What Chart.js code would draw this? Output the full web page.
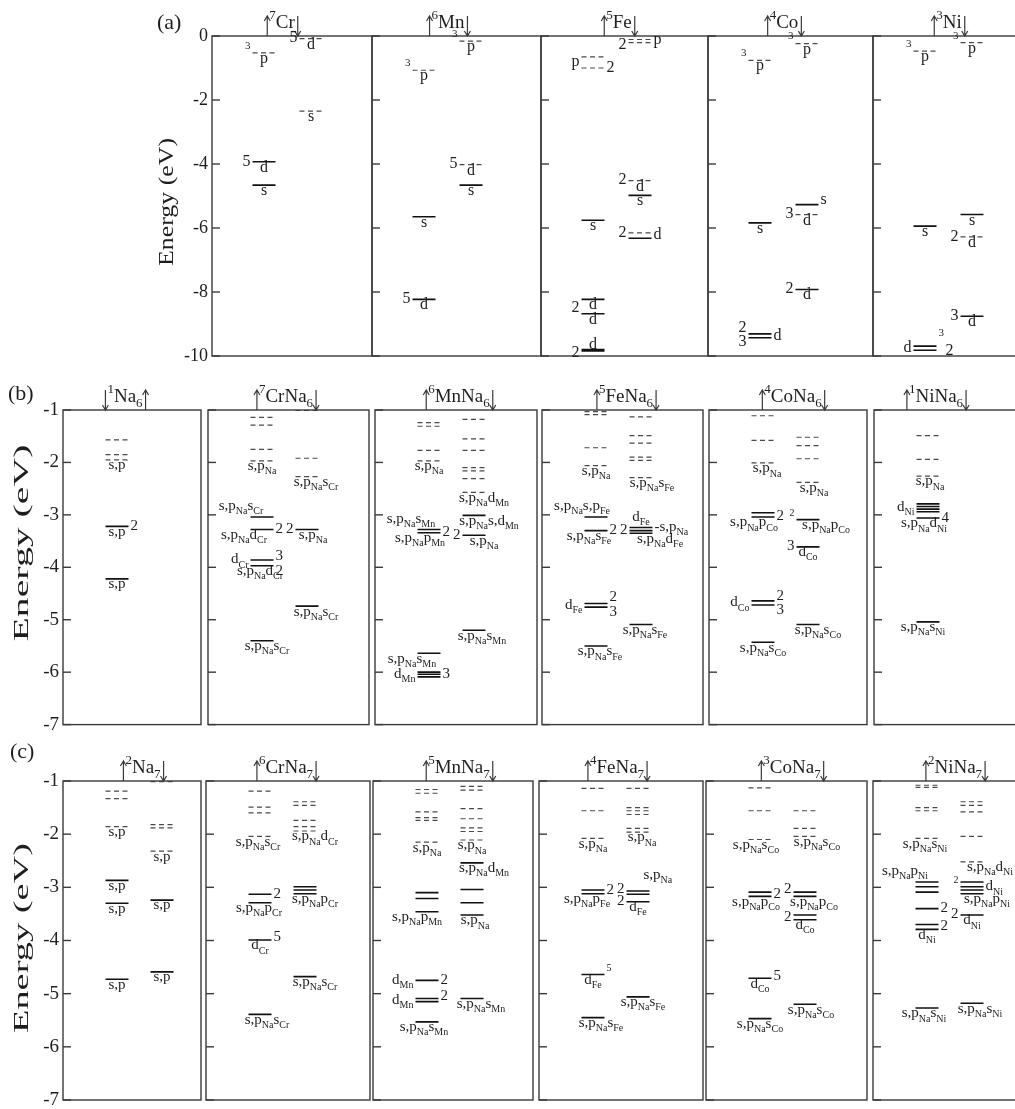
<!DOCTYPE html>
<html>
<head>
<meta charset="utf-8">
<script src="https://cdn.jsdelivr.net/npm/chart.js@4.4.1/dist/chart.umd.min.js"></script>
<style>
html, body { margin: 0; padding: 0; background: #fff; overflow: hidden; }
#fig { position: relative; width: 1015px; height: 1109px; overflow: hidden; background: #fff; }
#fig canvas { position: absolute; left: 0; }
</style>
</head>
<body>
<div id="fig">
  <canvas id="rowA" width="1050" height="372" style="top:0px"></canvas>
  <canvas id="rowB" width="1050" height="378" style="top:362px"></canvas>
  <canvas id="rowC" width="1050" height="380" style="top:738px"></canvas>
</div>
<script>
// panel titles (arrow, superscript = spin multiplicity, subscript = cluster size)
const titlesA = ['↑^{7}Cr↓', '↑^{6}Mn↓', '↑^{5}Fe↓', '↑^{4}Co↓', '↑^{3}Ni↓'];
const titlesB = ['↓^{1}Na_{6}↑', '↑^{7}CrNa_{6}↓', '↑^{6}MnNa_{6}↓', '↑^{5}FeNa_{6}↓', '↑^{4}CoNa_{6}↓', '↑^{1}NiNa_{6}↓'];
const titlesC = ['↑^{2}Na_{7}↓', '↑^{6}CrNa_{7}↓', '↑^{5}MnNa_{7}↓', '↑^{4}FeNa_{7}↓', '↑^{3}CoNa_{7}↓', '↑^{2}NiNa_{7}↓'];
const ticksA = [0, -2, -4, -6, -8, -10];
const ticksBC = [-1, -2, -3, -4, -5, -6, -7];

// levels: [spin column, energy eV, occupied 1 / empty 0]
// labels: [spin column, energy eV, side, text, nudge]
const aCr = [['u',-0.53,0],['d',-0.08,0],['d',-2.35,0],['u',-3.93,1],['u',-4.66,1]];
const aCrTx = [['u',-0.53,'b','p'],['u',-0.53,'l','^{3}'],['d',-0.08,'b','d'],['d',-0.08,'l','5'],['d',-2.35,'b','s'],
  ['u',-3.93,'b','d'],['u',-3.93,'l','5'],['u',-4.66,'b','s']];
const aMn = [['d',-0.16,0],['u',-1.07,0],['d',-4.02,0],['d',-4.66,1],['u',-5.65,1],['u',-8.23,1]];
const aMnTx = [['d',-0.16,'b','p'],['d',-0.16,'l','^{3}'],['u',-1.07,'b','p'],['u',-1.07,'l','^{3}'],['d',-4.02,'b','d'],
  ['d',-4.02,'l','5'],['d',-4.66,'b','s'],['u',-5.65,'b','s'],['u',-8.23,'b','d'],['u',-8.23,'l','5']];
const aFe = [['d',-0.11,0],['d',-0.21,0],['u',-0.65,0],['u',-1.0,0],['d',-4.52,0],['d',-4.98,1],['u',-5.76,1],
  ['d',-6.15,0],['d',-6.32,1],['u',-8.23,1],['u',-8.68,1],['u',-9.8,1],['u',-9.84,1]];
const aFeTx = [['d',-0.28,'l','2'],['d',-0.14,'r','p'],['u',-0.82,'l','p'],['u',-1.0,'r','2'],['d',-4.52,'l','2'],
  ['d',-4.52,'b','d'],['d',-4.98,'b','s'],['u',-5.76,'b','s'],['d',-6.15,'l','2'],['d',-6.22,'r','d'],
  ['u',-8.5,'l','2'],['u',-8.23,'b','d'],['u',-8.68,'b','d'],['u',-9.84,'a','d'],['u',-9.9,'l','2']];
const aCo = [['d',-0.24,0],['u',-0.76,0],['d',-5.27,1],['d',-5.58,0],['u',-5.84,1],['d',-7.92,1],['u',-9.31,1],['u',-9.43,1]];
const aCoTx = [['d',-0.24,'b','p'],['d',-0.24,'l','^{3}'],['u',-0.76,'b','p'],['u',-0.76,'l','^{3}'],['d',-5.12,'r','s'],
  ['d',-5.58,'l','3'],['d',-5.58,'b','d'],['u',-5.84,'b','s'],['d',-7.92,'b','d'],['d',-7.92,'l','2'],
  ['u',-9.12,'l','2'],['u',-9.58,'l','3'],['u',-9.37,'r','d']];
const aNi = [['d',-0.21,0],['u',-0.47,0],['d',-5.58,1],['u',-5.94,1],['d',-6.28,0],['d',-8.76,1],['u',-9.69,1],['u',-9.82,1]];
const aNiTx = [['d',-0.21,'b','p'],['d',-0.21,'l','^{3}'],['u',-0.47,'b','p'],['u',-0.47,'l','^{3}'],['d',-5.58,'b','s'],
  ['u',-5.94,'b','s'],['d',-6.28,'b','d'],['d',-6.28,'l','2'],['d',-8.76,'b','d'],['d',-8.76,'l','3'],
  ['u',-9.76,'l','d'],['u',-9.5,'r','^{3}'],['u',-9.86,'r','2',7]];

const bNa = [['u',-1.57,0],['u',-1.85,0],['u',-1.95,0],['u',-3.22,1],['u',-4.22,1]];
const bNaTx = [['u',-1.95,'b','s,p'],['u',-3.22,'b','s,p'],['u',-3.22,'r','2'],['u',-4.22,'b','s,p']];
const bCr = [['u',-1.14,0],['u',-1.29,0],['u',-1.75,0],['u',-1.97,0],['d',-1.01,0],['d',-1.92,0],['d',-2.27,0],
  ['u',-3.04,1],['u',-3.28,1],['d',-3.28,1],['u',-3.86,1],['u',-3.97,1],['d',-4.74,1],['u',-5.40,1]];
const bCrTx = [['u',-1.97,'b','s,p_{Na}'],['d',-2.27,'b','s,p_{Na}s_{Cr}',9],['u',-3.04,'a','s,p_{Na}s_{Cr}',-21],
  ['u',-3.28,'b','s,p_{Na}d_{Cr}',-18],['u',-3.28,'r','2'],['d',-3.28,'l','2'],['d',-3.28,'b','s,p_{Na}',6],
  ['u',-3.86,'l','d_{Cr}'],['u',-3.80,'r','3'],['u',-4.08,'r','2'],['u',-3.97,'b','s,p_{Na}d_{Cr}',-2],
  ['d',-4.74,'b','s,p_{Na}s_{Cr}',9],['u',-5.40,'b','s,p_{Na}s_{Cr}',5]];
const bMn = [['u',-1.24,0],['u',-1.31,0],['u',-1.77,0],['u',-1.97,0],['d',-1.18,0],['d',-1.55,0],['d',-1.77,0],
  ['d',-2.10,0],['d',-2.16,0],['d',-2.31,0],['d',-2.57,0],['d',-3.01,1],['d',-3.39,1],['u',-3.28,1],['u',-3.34,1],
  ['d',-5.20,1],['u',-5.64,1],['u',-6.0,1],['u',-6.04,1],['u',-6.09,1]];
const bMnTx = [['u',-1.97,'b','s,p_{Na}'],['d',-2.57,'b','s,p_{Na}d_{Mn}',10],['d',-3.01,'b','s,p_{Na}s,d_{Mn}',15],
  ['d',-3.39,'l','2'],['d',-3.39,'b','s,p_{Na}',10],['u',-3.28,'a','s,p_{Na}s_{Mn}',-18],['u',-3.34,'r','2'],
  ['u',-3.34,'b','s,p_{Na}p_{Mn}',-9],['d',-5.20,'b','s,p_{Na}s_{Mn}',8],['u',-5.64,'b','s,p_{Na}s_{Mn}',-17],
  ['u',-6.04,'l','d_{Mn}'],['u',-6.04,'r','3']];
const bFe = [['u',-1.03,0],['u',-1.09,0],['u',-1.72,0],['u',-2.06,0],['d',-1.13,0],['d',-1.49,0],['d',-1.63,0],
  ['d',-1.90,0],['d',-1.96,0],['d',-2.29,0],['u',-3.04,1],['u',-3.30,1],['d',-3.24,1],['d',-3.30,1],['d',-3.35,1],
  ['u',-4.69,1],['u',-4.76,1],['d',-5.09,1],['u',-5.50,1]];
const bFeTx = [['u',-2.06,'b','s,p_{Na}'],['d',-2.29,'b','s,p_{Na}s_{Fe}',11],['u',-3.04,'a','s,p_{Na}s,p_{Fe}',-14],
  ['u',-3.30,'r','2'],['u',-3.30,'b','s,p_{Na}s_{Fe}',-7],['d',-3.24,'a','d_{Fe}'],['d',-3.30,'l','2'],
  ['d',-3.24,'r','-s,p_{Na}'],['d',-3.35,'b','s,p_{Na}d_{Fe}',19],['u',-4.72,'l','d_{Fe}'],['u',-4.58,'r','2'],
  ['u',-4.86,'r','3'],['d',-5.09,'b','s,p_{Na}s_{Fe}',4],['u',-5.50,'b','s,p_{Na}s_{Fe}',4]];
const bCo = [['u',-1.11,0],['u',-1.58,0],['u',-2.01,0],['d',-1.52,0],['d',-1.68,0],['d',-1.93,0],['d',-2.38,0],
  ['u',-2.96,1],['u',-3.04,1],['d',-3.09,1],['d',-3.61,1],['u',-4.64,1],['u',-4.72,1],['d',-5.09,1],['u',-5.43,1]];
const bCoTx = [['u',-2.01,'b','s,p_{Na}',4],['d',-2.38,'b','s,p_{Na}',6],['u',-3.04,'r','2'],
  ['u',-3.04,'b','s,p_{Na}p_{Co}',-9],['d',-3.09,'l','^{2}'],['d',-3.09,'b','s,p_{Na}p_{Co}',18],['d',-3.61,'l','3'],
  ['d',-3.61,'b','d_{Co}'],['u',-4.68,'l','d_{Co}'],['u',-4.55,'r','2'],['u',-4.83,'r','3'],
  ['d',-5.09,'b','s,p_{Na}s_{Co}',10],['u',-5.43,'b','s,p_{Na}s_{Co}']];
const bNi = [['u',-1.49,0],['u',-1.94,0],['u',-2.26,0],['u',-2.79,1],['u',-2.84,1],['u',-2.89,1],['u',-2.94,1],
  ['u',-3.06,1],['u',-5.04,1]];
const bNiTx = [['u',-2.26,'b','s,p_{Na}',2],['u',-2.86,'l','d_{Ni}'],['u',-3.06,'r','4'],
  ['u',-3.06,'b','s,p_{Na}d_{Ni}',-4],['u',-5.04,'b','s,p_{Na}s_{Ni}',-5]];

const cNa = [['u',-1.19,0],['u',-1.33,0],['u',-1.86,0],['u',-2.87,1],['u',-3.30,1],['u',-4.73,1],['d',-1.01,0],
  ['d',-1.82,0],['d',-1.88,0],['d',-2.32,0],['d',-3.24,1],['d',-4.59,1]];
const cNaTx = [['u',-1.86,'b','s,p'],['u',-2.87,'b','s,p'],['u',-3.30,'b','s,p'],['u',-4.73,'b','s,p'],
  ['d',-2.32,'b','s,p'],['d',-3.24,'b','s,p'],['d',-4.59,'b','s,p']];
const cCr = [['u',-1.19,0],['u',-1.49,0],['u',-1.60,0],['u',-2.04,0],['d',-1.39,0],['d',-1.46,0],['d',-1.74,0],
  ['d',-1.86,0],['d',-1.94,0],['u',-3.13,1],['u',-3.29,1],['d',-2.99,1],['d',-3.05,1],['d',-3.12,1],['u',-3.99,1],
  ['d',-4.68,1],['u',-5.39,1]];
const cCrTx = [['u',-2.04,'b','s,p_{Na}s_{Cr}',-2],['d',-1.94,'b','s,p_{Na}d_{Cr}',10],['u',-3.13,'r','2'],
  ['u',-3.29,'b','s,p_{Na}p_{Cr}',-1],['d',-3.12,'b','s,p_{Na}p_{Cr}',10],['u',-3.95,'r','5'],['u',-3.99,'b','d_{Cr}'],
  ['d',-4.68,'b','s,p_{Na}s_{Cr}',10],['u',-5.39,'b','s,p_{Na}s_{Cr}',7]];
const cMn = [['u',-1.16,0],['u',-1.23,0],['u',-1.58,0],['u',-1.69,0],['u',-1.74,0],['u',-2.15,0],['d',-1.10,0],
  ['d',-1.17,0],['d',-1.52,0],['d',-1.71,0],['d',-1.88,0],['d',-1.95,0],['d',-2.11,0],['d',-2.54,1],['u',-3.10,1],
  ['u',-3.21,1],['u',-3.46,1],['d',-3.04,1],['d',-3.29,1],['d',-3.52,1],['u',-4.75,1],['u',-5.09,1],['u',-5.15,1],
  ['u',-5.53,1],['d',-5.09,1]];
const cMnTx = [['u',-2.15,'b','s,p_{Na}'],['d',-2.11,'b','s,p_{Na}'],['d',-2.54,'b','s,p_{Na}d_{Mn}',12],
  ['u',-3.46,'b','s,p_{Na}p_{Mn}',-10],['d',-3.52,'b','s,p_{Na}',3],['u',-4.75,'l','d_{Mn}'],['u',-4.75,'r','2'],
  ['u',-5.12,'l','d_{Mn}'],['u',-5.06,'r','2'],['u',-5.53,'b','s,p_{Na}s_{Mn}',-3],['d',-5.09,'b','s,p_{Na}s_{Mn}',9]];
const cFe = [['u',-1.14,0],['u',-1.56,0],['u',-2.08,0],['d',-1.14,0],['d',-1.50,0],['d',-1.56,0],['d',-1.63,0],
  ['d',-1.89,0],['d',-1.96,0],['u',-3.05,1],['u',-3.12,1],['d',-3.07,1],['d',-3.13,1],['d',-3.27,1],['u',-4.64,1],
  ['d',-5.06,1],['u',-5.45,1]];
const cFeTx = [['u',-2.08,'b','s,p_{Na}'],['d',-1.96,'b','s,p_{Na}',4],['u',-3.06,'r','2'],
  ['u',-3.12,'b','s,p_{Na}p_{Fe}',-6],['d',-3.05,'l','2'],['d',-3.27,'l','2'],['d',-3.27,'b','d_{Fe}'],
  ['d',-2.78,'r','s,p_{Na}',-8],['u',-4.64,'r','^{5}'],['u',-4.64,'b','d_{Fe}'],['d',-5.06,'b','s,p_{Na}s_{Fe}',5],
  ['u',-5.45,'b','s,p_{Na}s_{Fe}',8]];
const cCo = [['u',-1.13,0],['u',-1.56,0],['u',-2.10,0],['d',-1.56,0],['d',-1.89,0],['d',-2.04,0],['u',-3.09,1],
  ['u',-3.17,1],['d',-3.09,1],['d',-3.17,1],['d',-3.52,1],['d',-3.61,1],['u',-4.71,1],['d',-5.20,1],['u',-5.47,1]];
const cCoTx = [['u',-2.10,'b','s,p_{Na}s_{Co}',-4],['d',-2.04,'b','s,p_{Na}s_{Co}',12],['u',-3.13,'r','2'],
  ['u',-3.17,'b','s,p_{Na}p_{Co}',-4],['d',-3.05,'l','2'],['d',-3.17,'b','s,p_{Na}p_{Co}',9],['d',-3.56,'l','2'],
  ['d',-3.61,'b','d_{Co}'],['u',-4.68,'r','5'],['u',-4.71,'b','d_{Co}'],['d',-5.20,'b','s,p_{Na}s_{Co}',6],
  ['u',-5.47,'b','s,p_{Na}s_{Co}']];
const cNi = [['u',-1.08,0],['u',-1.12,0],['u',-1.50,0],['u',-1.56,0],['u',-2.08,0],['d',-1.39,0],['d',-1.46,0],
  ['d',-1.58,0],['d',-2.04,0],['d',-2.52,0],['u',-2.90,1],['u',-2.99,1],['u',-3.09,1],['u',-3.40,1],['u',-3.70,1],
  ['u',-3.79,1],['d',-2.90,1],['d',-2.99,1],['d',-3.05,1],['d',-3.12,1],['d',-3.52,1],['u',-5.27,1],['d',-5.18,1]];
const cNiTx = [['u',-2.08,'b','s,p_{Na}s_{Ni}',-2],['u',-2.90,'a','s,p_{Na}p_{Ni}',-22],['u',-3.40,'r','2'],
  ['u',-3.74,'r','2'],['u',-3.79,'b','d_{Ni}'],['d',-2.52,'b','s,p_{Na}d_{Ni}',18],['d',-2.99,'l','^{2}'],
  ['d',-2.99,'r','d_{Ni}'],['d',-3.12,'b','s,p_{Na}p_{Ni}',15],['d',-3.52,'l','2'],['d',-3.52,'b','d_{Ni}'],
  ['u',-5.27,'b','s,p_{Na}s_{Ni}',-3],['d',-5.18,'b','s,p_{Na}s_{Ni}',8]];

// page layout of the three rows (pixels)
const layA = { id: 'rowA', padL: 140, padT: 36, padB: 16, lefts: [212, 372, 541, 708, 873],
  rights: [372, 541, 708, 873, 1043], up: 52, dn: 99, hw: 11.5, tOff: [70, 76, 78, 76, 76],
  size: 16, tickSize: 18, letter: ['(a)', 157, 29], yTitle: [167, 202, 128] };
const layB = { id: 'rowB', padL: 4, padT: 48, padB: 12, lefts: [63, 208, 375, 542, 709, 874],
  rights: [201, 369, 537, 703, 867, 1040], up: 54, dn: 99, hw: 11.5, tOff: [62, 78, 84, 84, 84, 62],
  size: 15, tickSize: 19, letter: ['(b)', 8, 38], yTitle: [22, 181, 197] };
const layC = { id: 'rowC', padL: 4, padT: 43, padB: 18, lefts: [63, 206, 373, 539, 706, 873],
  rights: [201, 370, 533, 703, 867, 1040], up: 54, dn: 99, hw: 11.5, tOff: [80, 80, 86, 78, 86, 82],
  size: 15, tickSize: 19, letter: ['(c)', 10, 20], yTitle: [22, 200, 190] };

const FONT = '"Liberation Serif", "Times New Roman", serif';
const INK = '#1e1e1e';

// split "s,p_{Na}^{2}" into runs: 0 normal, 1 subscript, -1 superscript
function runs(str) {
    let out = [], buf = '', i = 0;
    while (i < str.length) {
        let c = str[i];
        if ((c === '_' || c === '^') && str[i + 1] === '{') {
            if (buf) { out.push({t: buf, m: 0}); buf = ''; }
            let j = str.indexOf('}', i);
            out.push({t: str.slice(i + 2, j), m: c === '_' ? 1 : -1});
            i = j + 1;
        } else { buf += c; i++; }
    }
    if (buf) out.push({t: buf, m: 0});
    return out;
}

function richWidth(ctx, str, size) {
    let w = 0;
    runs(str).forEach(r => {
        ctx.font = (r.m ? Math.round(size * 0.68) : size) + 'px ' + FONT;
        w += ctx.measureText(r.t).width;
    });
    return w;
}

function rich(ctx, str, x, y, size, align) {
    let w = richWidth(ctx, str, size);
    let cx = align === 'center' ? x - w / 2 : align === 'right' ? x - w : x;
    ctx.textAlign = 'left';
    ctx.textBaseline = 'alphabetic';
    runs(str).forEach(r => {
        let s = r.m ? Math.round(size * 0.68) : size;
        ctx.font = s + 'px ' + FONT;
        let dy = r.m === 1 ? size * 0.28 : r.m === -1 ? -size * 0.5 : 0;
        ctx.fillText(r.t, cx, y + dy);
        cx += ctx.measureText(r.t).width;
    });
    return w;
}

function arrow(ctx, ax, yb, up) {
    let yt = yb - 20;
    ctx.beginPath();
    ctx.moveTo(ax, yb);
    ctx.lineTo(ax, yt);
    let hy = up ? yt : yb, d = up ? 1 : -1;
    ctx.moveTo(ax - 3, hy + 5 * d);
    ctx.lineTo(ax, hy);
    ctx.lineTo(ax + 3, hy + 5 * d);
    ctx.stroke();
}

const figPlugin = {
    id: 'fig',
    afterDraw(chart, args, o) {
        const {ctx} = chart;
        const sx = chart.scales.x, sy = chart.scales.y, lay = o.lay;
        const yt = sy.getPixelForValue(sy.max), yb = sy.getPixelForValue(sy.min);
        ctx.save();
        ctx.strokeStyle = '#3a3a3a';
        ctx.fillStyle = INK;
        ctx.lineWidth = 1.4;
        lay.lefts.forEach((l, i) => {
            let xl = sx.getPixelForValue(l), xr = sx.getPixelForValue(lay.rights[i]);
            ctx.strokeRect(xl, yt, xr - xl, yb - yt);
            o.ticks.forEach(v => {
                let py = sy.getPixelForValue(v);
                ctx.beginPath(); ctx.moveTo(xl, py); ctx.lineTo(xl + 8, py); ctx.stroke();
            });
        });

        // panel titles with spin arrows
        ctx.lineWidth = 1.2;
        o.titles.forEach((t, i) => {
            let a0 = t[0], a1 = t[t.length - 1], body = t.slice(1, -1);
            let cx = sx.getPixelForValue(lay.lefts[i] + lay.tOff[i]);
            let w = richWidth(ctx, body, 19);
            rich(ctx, body, cx, yt - 8, 19, 'center');
            arrow(ctx, cx - w / 2 - 2, yt, a0 === '↑');
            arrow(ctx, cx + w / 2 + 3, yt, a1 === '↑');
        });

        // level labels
        o.texts.forEach((tx, i) => {
            tx.forEach(([sp, e, an, t, dx = 0]) => {
                let c = sx.getPixelForValue(lay.lefts[i] + (sp === 'u' ? lay.up : lay.dn));
                let py = sy.getPixelForValue(e), s = lay.size, h = lay.hw;
                if (an === 'b') rich(ctx, t, c + dx, py + s * 0.56 + 1, s, 'center');
                else if (an === 'a') rich(ctx, t, c + dx, py - (t.includes('_') ? s * 0.45 : 2), s, 'center');
                else if (an === 'l') rich(ctx, t, c - h - 2 + dx, py + s * 0.3 - 1, s, 'right');
                else rich(ctx, t, c + h + 2 + dx, py + s * 0.3 - 1, s, 'left');
            });
        });

        // row letter and stretched axis title
        ctx.font = '22px ' + FONT;
        ctx.textAlign = 'left';
        ctx.fillText(lay.letter[0], lay.letter[1], lay.letter[2]);
        let [tx, ty, len] = lay.yTitle;
        ctx.translate(tx, ty);
        ctx.rotate(-Math.PI / 2);
        let w = ctx.measureText('Energy (eV)').width;
        ctx.scale(len / w, 1);
        ctx.textAlign = 'center';
        ctx.textBaseline = 'middle';
        ctx.fillText('Energy (eV)', 0, 0);
        ctx.restore();
    }
};

function makeRow(lay, titles, ticks, levels, texts, yMin, yMax) {
    let solid = [], dashed = [];
    levels.forEach((lv, i) => {
        lv.forEach(([sp, e, occ]) => {
            let c = lay.lefts[i] + (sp === 'u' ? lay.up : lay.dn);
            let arr = occ ? solid : dashed;
            arr.push({x: c - lay.hw, y: e}, {x: c + lay.hw, y: e}, {x: c + lay.hw, y: null});
        });
    });
    let canvas = document.getElementById(lay.id);
    new Chart(canvas.getContext('2d'), {
        type: 'line',
        data: {
            datasets: [
                {data: solid, borderColor: '#111', borderWidth: 1.6, pointRadius: 0, spanGaps: false, fill: false},
                {data: dashed, borderColor: '#4a4a4a', borderWidth: 1.2, borderDash: [5, 3.5], pointRadius: 0, spanGaps: false, fill: false}
            ]
        },
        options: {
            responsive: false,
            animation: false,
            devicePixelRatio: 1,
            events: [],
            layout: {padding: {left: lay.padL, top: lay.padT, right: 0, bottom: lay.padB}},
            plugins: {legend: {display: false}, tooltip: {enabled: false}, fig: {lay, titles, ticks, texts}},
            scales: {
                x: {type: 'linear', display: false, min: lay.lefts[0], max: canvas.width},
                y: {
                    type: 'linear', position: 'left', min: yMin, max: yMax,
                    afterFit: s => { s.width = lay.lefts[0] - lay.padL; },
                    afterBuildTicks: s => { s.ticks = ticks.map(v => ({value: v})); },
                    ticks: {font: {family: FONT, size: lay.tickSize}, color: INK, padding: 4, autoSkip: false},
                    grid: {display: false, drawTicks: false},
                    border: {display: false}
                }
            }
        },
        plugins: [figPlugin]
    });
}

makeRow(layA, titlesA, ticksA, [aCr, aMn, aFe, aCo, aNi], [aCrTx, aMnTx, aFeTx, aCoTx, aNiTx], -10, 0);
makeRow(layB, titlesB, ticksBC, [bNa, bCr, bMn, bFe, bCo, bNi], [bNaTx, bCrTx, bMnTx, bFeTx, bCoTx, bNiTx], -7, -1);
makeRow(layC, titlesC, ticksBC, [cNa, cCr, cMn, cFe, cCo, cNi], [cNaTx, cCrTx, cMnTx, cFeTx, cCoTx, cNiTx], -7, -1);
</script>
</body>
</html>
